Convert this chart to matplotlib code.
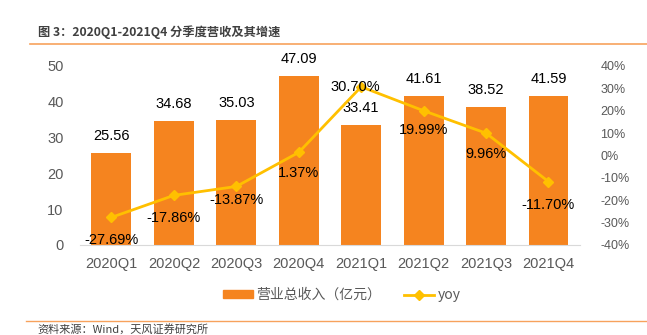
import matplotlib.pyplot as plt
from matplotlib.lines import Line2D
from matplotlib.patches import Patch

plt.rcParams['font.family'] = ['Noto Sans CJK SC', 'DejaVu Sans']

quarters = ["2020Q1", "2020Q2", "2020Q3", "2020Q4", "2021Q1", "2021Q2", "2021Q3", "2021Q4"]
revenue = [25.56, 34.68, 35.03, 47.09, 33.41, 41.61, 38.52, 41.59]
yoy = [-27.69, -17.86, -13.87, 1.37, 30.70, 19.99, 9.96, -11.70]

BAR_COLOR = "#F5841F"
LINE_COLOR = "#FFC000"
TICK_COLOR = "#595959"
NUM_FONT = "Liberation Sans"

fig = plt.figure(figsize=(6.47, 3.35), dpi=100)
ax = fig.add_axes([0.124, 0.269, 0.772, 0.534])
x = range(len(quarters))

ax.bar(x, revenue, width=0.64, color=BAR_COLOR, zorder=2)
ax.set_ylim(0, 50)
ax.set_xlim(-0.5, len(quarters) - 0.5)
ax.set_yticks(range(0, 51, 10))
ax.set_xticks(list(x))
ax.set_xticklabels(quarters)
ax.tick_params(axis="both", length=0, colors=TICK_COLOR, labelsize=10.5)
ax.tick_params(axis="y", pad=12)
ax.tick_params(axis="x", pad=9)
for s in ["top", "right", "left"]:
    ax.spines[s].set_visible(False)
ax.spines["bottom"].set_color("#D9D9D9")
for lbl in ax.get_yticklabels() + ax.get_xticklabels():
    lbl.set_family(NUM_FONT)

for i, v in enumerate(revenue):
    ax.text(i, v + 2.8, f"{v:.2f}", ha="center", va="bottom", fontsize=10.5,
            family=NUM_FONT, color="black")

ax2 = ax.twinx()
ax2.plot(list(x), yoy, color=LINE_COLOR, linewidth=2, marker="D", markersize=5.5, zorder=3)
ax2.set_ylim(-40, 40)
ax2.set_yticks(range(-40, 41, 10))
ax2.set_yticklabels([f"{t}%" for t in range(-40, 41, 10)], family=NUM_FONT)
ax2.tick_params(axis="y", length=0, colors=TICK_COLOR, labelsize=9, pad=15)
for s in ["top", "right", "left", "bottom"]:
    ax2.spines[s].set_visible(False)

# yoy labels: (dx, dy) offsets in points from each marker
offsets = [(0, -11), (0, -11), (0, -5), (0, -10), (-4, 0), (0, -9), (0, -10), (0, -12)]
for i, (v, (dx, dy)) in enumerate(zip(yoy, offsets)):
    ax2.annotate(f"{v:.2f}%", (i, v), xytext=(dx, dy), textcoords="offset points",
                 ha="center", va="top" if dy < 0 else "center", fontsize=10.5,
                 family=NUM_FONT, color="black", zorder=4)

handles = [Patch(color=BAR_COLOR),
           Line2D([], [], color=LINE_COLOR, lw=2, marker="D", markersize=5.5)]
fig.legend(handles, ["营业总收入（亿元）", "yoy"], loc="center", bbox_to_anchor=(0.528, 0.119),
           ncol=2, frameon=False, fontsize=10, handlelength=2.2, handleheight=0.5,
           handletextpad=0.25, columnspacing=1.6, labelcolor=TICK_COLOR)

fig.text(0.058, 0.905, "图 3：2020Q1-2021Q4 分季度营收及其增速", fontsize=8.8,
         fontweight="bold", color="#404040", va="center")
fig.add_artist(Line2D([0.046, 1.0], [0.868, 0.868], color="#F7A25C", lw=1.2))
fig.add_artist(Line2D([0.04, 1.0], [0.042, 0.042], color="#F7A25C", lw=1.0))
fig.text(0.058, 0.0, "资料来源：Wind，天风证券研究所", fontsize=8, color="#404040", va="bottom")

fig.savefig("out.png", dpi=100)
